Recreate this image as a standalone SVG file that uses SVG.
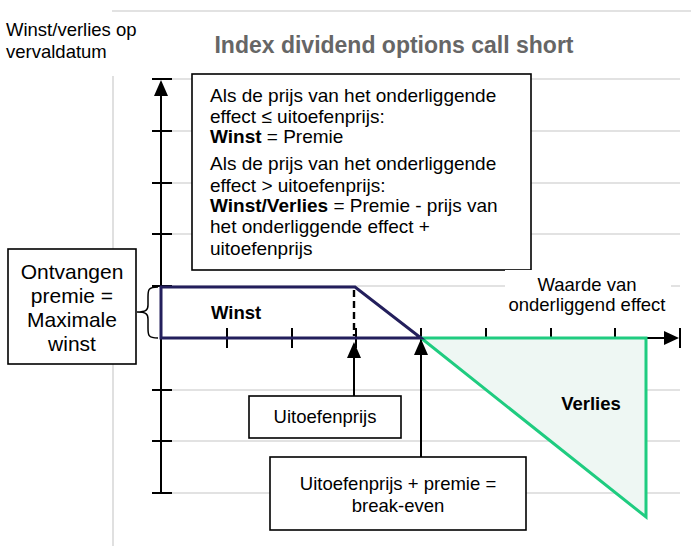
<svg xmlns="http://www.w3.org/2000/svg" width="691" height="546" viewBox="0 0 691 546">
<defs>
<style>
text{font-family:"Liberation Sans",Arial,sans-serif;font-size:18.5px;fill:#000}
.b{font-weight:bold}
.grid{stroke:#d9d9d9;stroke-width:1.6;fill:none}
.ax{stroke:#000;stroke-width:2;fill:none}
.box{fill:#fff;stroke:#000;stroke-width:1.6}
.c{text-anchor:middle}
.info{font-size:19px}
</style>
</defs>
<rect width="691" height="546" fill="#fff"/>
<g id="grid">
<path class="grid" d="M112,11 H691 M113,76 V546 M172,79 H680 M172,131 H680 M172,183 H680 M172,234 H680 M172,286 H680 M172,390 H680 M172,441 H680 M172,493 H680"/>
</g>
<g id="labels-top">
<text x="6" y="36">Winst/verlies op</text>
<text x="6" y="58">vervaldatum</text>
<text class="b c" x="394" y="53" style="font-size:23px;fill:#666">Index dividend options call short</text>
</g>
<g id="axes">
<path class="ax" d="M161,493 V82 M152,79 H172 M152,131 H172 M152,183 H172 M152,234 H172 M152,286 H172 M152,390 H172 M152,441 H172 M152,493 H172"/>
<path d="M161,80 L154,96 L168,96 Z" fill="#000"/>
<path class="ax" d="M161,338 H666 M680,328 V348 M227,328 V348 M292,328 V348 M356,328 V348 M421,328 V348 M486,328 V348 M551,328 V348 M615,328 V348"/>
<path d="M679,338 L664,331 L664,345 Z" fill="#000"/>
</g>
<g id="verlies">
<path d="M421,338 L646,338 L646,517 Z" fill="#eef7f3" stroke="#1fcc80" stroke-width="3" stroke-linejoin="miter"/>
<text class="b c" x="591" y="410">Verlies</text>
</g>
<g id="winst">
<path d="M161,287 H355 L421,338 H161 Z" fill="none" stroke="#231f5c" stroke-width="3"/>
<path d="M354,290 V336" stroke="#000" stroke-width="2.4" stroke-dasharray="7,4"/>
<text class="b" x="211" y="319">Winst</text>
</g>
<g id="brace">
<path d="M158,287 C148,287 148,290 148,297 V305 C148,310 146,312 137,312 C146,312 148,314 148,319 V328 C148,335 148,338 158,338" fill="none" stroke="#000" stroke-width="1.5"/>
</g>
<g id="info">
<rect class="box" x="192" y="74" width="339" height="196"/>
<text class="info" x="210" y="102">Als de prijs van het onderliggende</text>
<text class="info" x="210" y="123">effect ≤ uitoefenprijs:</text>
<text class="info" x="210" y="143"><tspan class="b">Winst</tspan> = Premie</text>
<text class="info" x="210" y="170">Als de prijs van het onderliggende</text>
<text class="info" x="210" y="192">effect &gt; uitoefenprijs:</text>
<text class="info" x="210" y="212"><tspan class="b">Winst/Verlies</tspan> = Premie - prijs van</text>
<text class="info" x="210" y="233">het onderliggende effect +</text>
<text class="info" x="210" y="255">uitoefenprijs</text>
</g>
<g id="premie">
<rect class="box" x="8" y="249" width="128" height="115"/>
<text class="c" x="72" y="279" style="font-size:21px">Ontvangen</text>
<text class="c" x="72" y="303" style="font-size:21px">premie =</text>
<text class="c" x="72" y="327" style="font-size:21px">Maximale</text>
<text class="c" x="72" y="351" style="font-size:21px">winst</text>
</g>
<g id="waarde">
<rect x="505" y="270" width="166" height="46" fill="#fff"/>
<text class="c" x="587" y="291">Waarde van</text>
<text class="c" x="587" y="311">onderliggend effect</text>
</g>
<g id="connectors">
<path class="ax" d="M354,396 V356"/>
<path d="M354,342 L347,358 L361,358 Z" fill="#000"/>
<path class="ax" d="M421,457 V352"/>
<path d="M421,339 L414,355 L428,355 Z" fill="#000"/>
</g>
<g id="uitoefenprijs">
<rect class="box" x="249" y="396" width="152" height="42"/>
<text class="c" x="325" y="423">Uitoefenprijs</text>
</g>
<g id="breakeven">
<rect class="box" x="270" y="457" width="256" height="73"/>
<text class="c" x="398" y="490">Uitoefenprijs + premie =</text>
<text class="c" x="398" y="512">break-even</text>
</g>
</svg>
